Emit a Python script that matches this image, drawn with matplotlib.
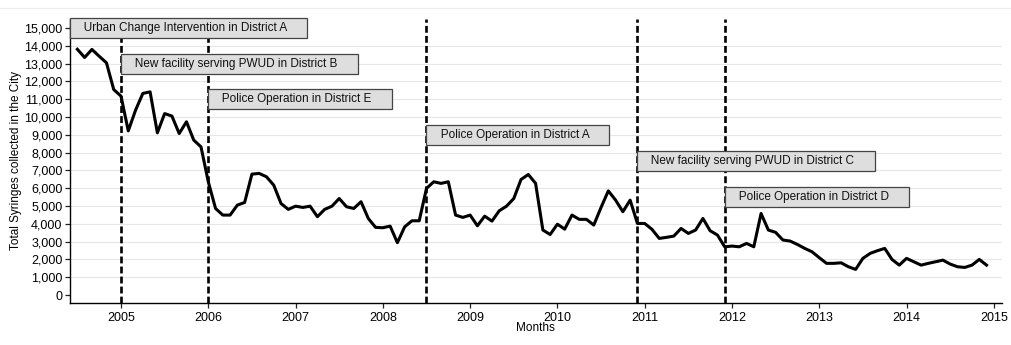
import numpy as np
import matplotlib
matplotlib.use("Agg")
import matplotlib.pyplot as plt
from matplotlib.lines import Line2D

plt.rcParams["font.family"] = ["Liberation Sans", "DejaVu Sans"]

# monthly syringe totals, July 2004 - December 2014
syringes = [
    13800, 13340, 13790, 13410, 13040, 11540,                                 # 2004 (Jul-Dec)
    11170, 9220, 10380, 11320, 11410, 9110, 10190, 10050, 9070, 9730, 8700, 8320,  # 2005
    6360, 4860, 4490, 4490, 5050, 5200, 6790, 6830, 6640, 6170, 5140, 4810,   # 2006
    4990, 4920, 4990, 4400, 4810, 4990, 5420, 4960, 4860, 5240, 4300, 3800,   # 2007
    3780, 3870, 2940, 3830, 4170, 4170, 5990, 6360, 6270, 6360, 4490, 4360,   # 2008
    4490, 3890, 4430, 4150, 4730, 4990, 5420, 6490, 6770, 6270, 3650, 3400,   # 2009
    3980, 3700, 4490, 4250, 4250, 3930, 4920, 5850, 5330, 4680, 5330, 4020,   # 2010
    4020, 3690, 3180, 3240, 3310, 3740, 3460, 3650, 4300, 3610, 3370, 2710,   # 2011
    2750, 2710, 2900, 2710, 4580, 3650, 3520, 3090, 3030, 2840, 2620, 2430,   # 2012
    2100, 1780, 1780, 1810, 1590, 1440, 2060, 2340, 2490, 2620, 2000, 1680,   # 2013
    2060, 1870, 1680, 1780, 1870, 1960, 1740, 1590, 1550, 1680, 2000, 1680,   # 2014
]
first_month = (2004, 7)

event_labels = [
    "Urban Change Intervention in District A",
    "New facility serving PWUD in District B",
    "Police Operation in District E",
    "Police Operation in District A",
    "New facility serving PWUD in District C",
    "Police Operation in District D",
]
event_months = [None, (2005, 1), (2006, 1), (2008, 7), (2010, 12), (2011, 12)]
event_label_y = [15000, 13000, 11000, 9000, 7500, 5500]

year_ticks = list(range(2005, 2016))
count_ticks = list(range(0, 15001, 1000))


def decimal_year(ym):
    return ym[0] + (ym[1] - 1) / 12


months = decimal_year(first_month) + np.arange(len(syringes)) / 12

fig = plt.figure(figsize=(10.12, 3.45), dpi=100)
ax = fig.add_axes([0.0692, 0.1226, 0.9206, 0.8223])
x_left, x_right = 2004.416, 2015.09
ax.set_xlim(x_left, x_right)
ax.set_ylim(-430, 15500)

# faint frame line along the top of the graph region
fig.add_artist(Line2D([0, 1], [0.977, 0.977], transform=fig.transFigure,
                      color="#ececec", lw=0.8))

for t in count_ticks[1:-1]:
    ax.axhline(t, color="#e6e6e6", lw=0.8, zorder=0)

ax.plot(months, syringes, color="black", lw=2.2, zorder=3,
        solid_joinstyle="round")

for ym in event_months:
    if ym is None:
        continue
    ax.axvline(decimal_year(ym), color="black", lw=1.9,
               linestyle=(0, (2.6, 1.2)), zorder=4)

fs = 8.5
pad = 0.34
for label, ym, yv in zip(event_labels, event_months, event_label_y):
    xv = x_left if ym is None else decimal_year(ym)
    ax.annotate("   " + label + "     ", xy=(xv, yv), xycoords="data",
                xytext=(pad * fs, 0), textcoords="offset points",
                ha="left", va="center", fontsize=fs, color="#111111",
                zorder=6, annotation_clip=False,
                bbox=dict(boxstyle=f"square,pad={pad}", fc="#dedede",
                          ec="#444444", lw=0.9))

ax.set_xticks(year_ticks)
ax.set_xticklabels([str(y) for y in year_ticks])
ax.set_yticks(count_ticks)
ax.set_yticklabels([f"{v:,}" for v in count_ticks])
ax.tick_params(axis="both", labelsize=9, length=3.5, width=0.9, color="#222222")
ax.tick_params(axis="x", pad=3)
ax.tick_params(axis="y", pad=2)

for side in ("top", "right"):
    ax.spines[side].set_visible(False)
for side in ("left", "bottom"):
    ax.spines[side].set_linewidth(1.0)

ax.set_ylabel("Total Syringes collected in the City", fontsize=8.5, labelpad=1.5)
ax.set_xlabel("Months", fontsize=8.5, labelpad=-1)

fig.savefig("out.png", dpi=100, facecolor="white")
